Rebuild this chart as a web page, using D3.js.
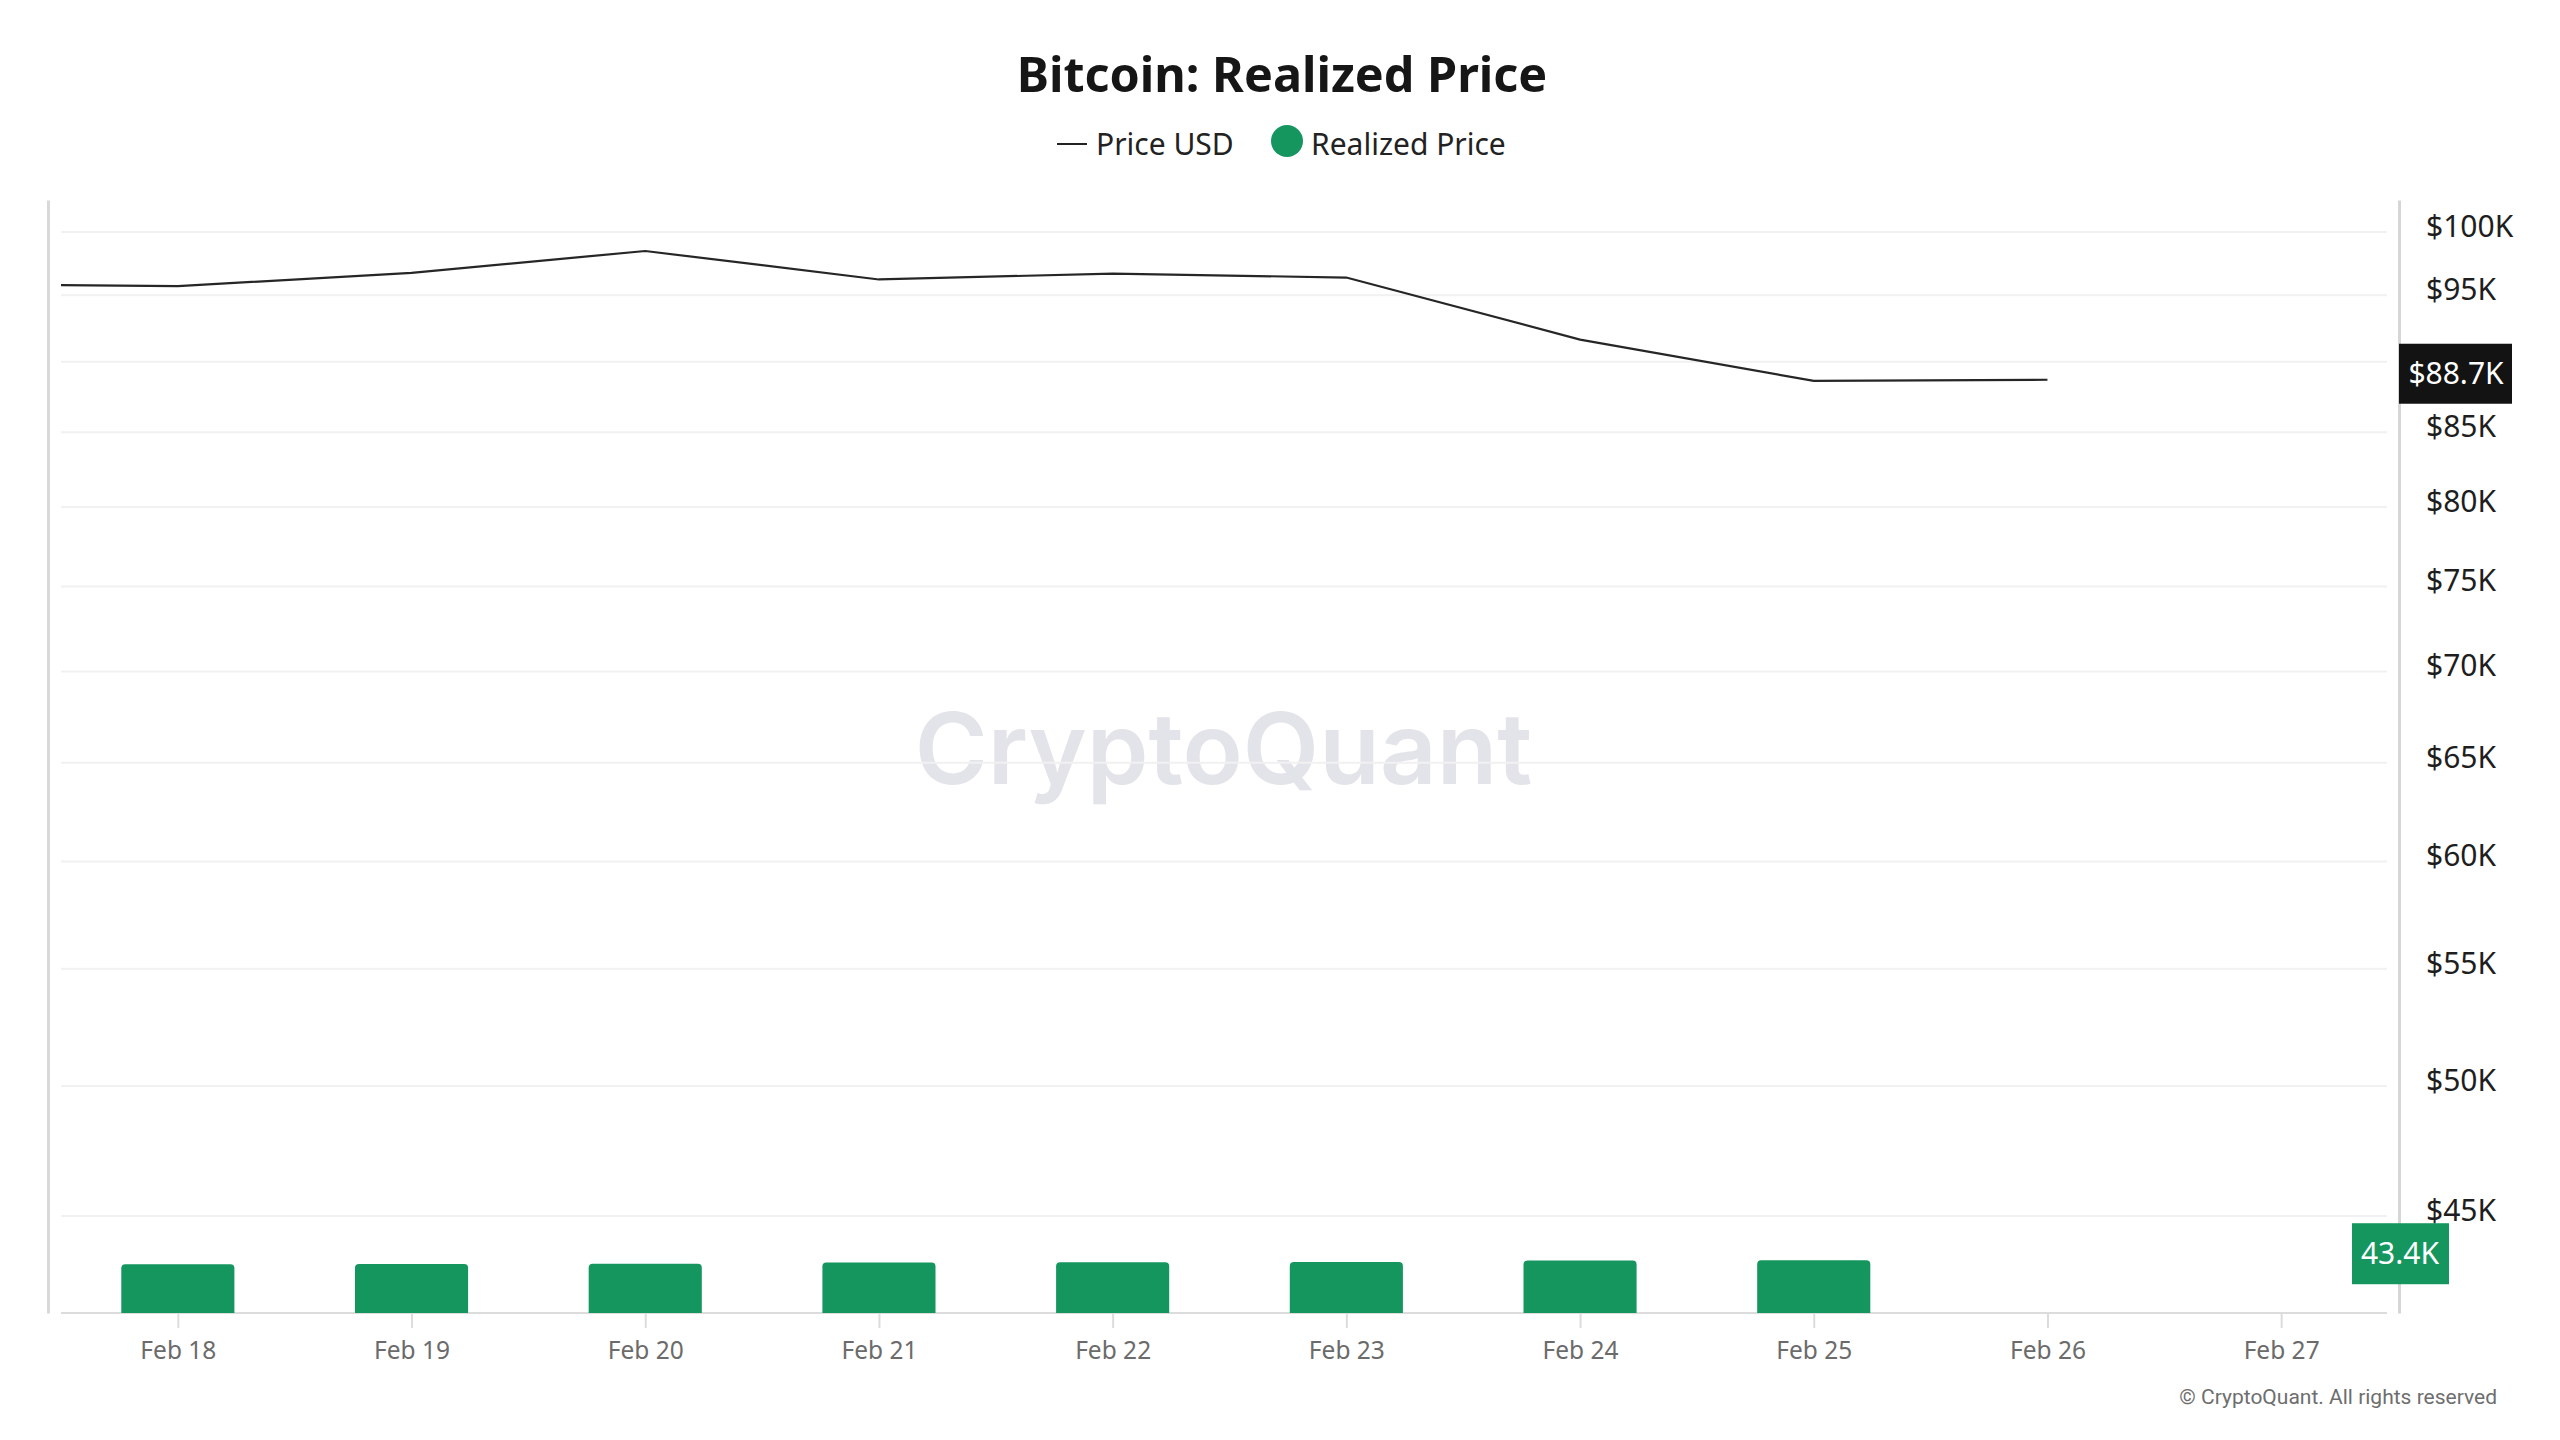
<!DOCTYPE html>
<html>
<head>
<meta charset="utf-8">
<script src="https://cdn.jsdelivr.net/npm/d3@7"></script>
<style>
  html, body { margin: 0; padding: 0; background: #fff; }
  svg { display: block; font-family: "Noto Sans", "Open Sans", sans-serif; }
</style>
</head>
<body>
<svg id="viz" width="2560" height="1440"></svg>
<script>
// price line (Feb 17 sits left of the visible range and gets clipped)
var priceDates = ["2025-02-17", "2025-02-18", "2025-02-19", "2025-02-20", "2025-02-21",
  "2025-02-22", "2025-02-23", "2025-02-24", "2025-02-25", "2025-02-26"];
var priceUsd = [95850, 95700, 96740, 98470, 96220, 96680, 96370, 91640, 88620, 88700];

// realized price bars
var realizedDates = ["2025-02-18", "2025-02-19", "2025-02-20", "2025-02-21",
  "2025-02-22", "2025-02-23", "2025-02-24", "2025-02-25"];
var realizedPrice = [43270, 43280, 43290, 43330, 43340, 43350, 43400, 43410];

// axis ticks
var xTickDates = ["2025-02-18", "2025-02-19", "2025-02-20", "2025-02-21", "2025-02-22",
  "2025-02-23", "2025-02-24", "2025-02-25", "2025-02-26", "2025-02-27"];
var gridTicks = [45000, 50000, 55000, 60000, 65000, 70000, 75000, 80000, 85000, 90000, 95000, 100000];
var yLabelTicks = [45000, 50000, 55000, 60000, 65000, 70000, 75000, 80000, 85000, 95000, 100000];

var parseDate = d3.timeParse("%Y-%m-%d");
var green = "#15965f";

var svg = d3.select("#viz");
var plot = { left: 61, right: 2398, top: 200, bottom: 1313 };

var halfDay = 12 * 3600 * 1000;
var x = d3.scaleTime()
  .domain([+parseDate("2025-02-18") - halfDay, +parseDate("2025-02-27") + halfDay])
  .range([plot.left, plot.right]);
var y = d3.scaleLog()
  .domain([41590, 102630])
  .range([plot.bottom, plot.top]);
var step = x(parseDate("2025-02-19")) - x(parseDate("2025-02-18"));
var barW = step * 0.484;

// title + legend
svg.append("text")
  .attr("x", 1282).attr("y", 92)
  .attr("text-anchor", "middle")
  .style("font-size", "48.5px").style("font-weight", 700).style("fill", "#161616")
  .text("Bitcoin: Realized Price");

var legend = svg.append("g");
legend.append("line")
  .attr("x1", 1057).attr("x2", 1087).attr("y1", 144).attr("y2", 144)
  .attr("stroke", "#222").attr("stroke-width", 2);
legend.append("text")
  .attr("x", 1096).attr("y", 155)
  .style("font-size", "30px").style("fill", "#222")
  .text("Price USD");
legend.append("circle")
  .attr("cx", 1287).attr("cy", 141).attr("r", 16)
  .attr("fill", green);
legend.append("text")
  .attr("x", 1311).attr("y", 155)
  .style("font-size", "30px").style("fill", "#222")
  .text("Realized Price");

// watermark
svg.append("text")
  .attr("x", (plot.left + plot.right) / 2 - 6).attr("y", 748)
  .attr("text-anchor", "middle").attr("dominant-baseline", "central")
  .style("font-family", "Inter, sans-serif")
  .style("font-size", "99px").style("font-weight", 600)
  .style("fill", "#e3e3ea")
  .text("CryptoQuant");

// gridlines
svg.append("g")
  .selectAll("line")
  .data(gridTicks)
  .enter()
  .append("line")
  .attr("x1", plot.left).attr("x2", 2387)
  .attr("y1", (d) => y(d)).attr("y2", (d) => y(d))
  .attr("stroke", "#f1f1f1").attr("stroke-width", 2);

// left border
svg.append("g")
  .attr("transform", "translate(48,0)")
  .call(d3.axisLeft(y).tickValues([]).tickSizeOuter(0))
  .call((g) => g.select(".domain").attr("stroke", "#d9d9d9").attr("stroke-width", 3));

// x axis
var xAxis = svg.append("g")
  .attr("transform", "translate(0," + plot.bottom + ")")
  .call(
    d3.axisBottom(x)
      .tickValues(xTickDates.map(parseDate))
      .tickFormat(d3.timeFormat("%b %d"))
      .tickSize(15).tickSizeOuter(0).tickPadding(14)
  );
xAxis.select(".domain").attr("stroke", "#dcdcdc").attr("stroke-width", 2)
  .attr("d", "M" + plot.left + ",0H2387");
xAxis.selectAll(".tick line").attr("stroke", "#dcdcdc").attr("stroke-width", 2);
xAxis.selectAll(".tick text")
  .style("font-family", "'Noto Sans', sans-serif")
  .style("font-size", "24.5px").style("fill", "#6b6b6b");

// bars
svg.append("g")
  .selectAll("path")
  .data(realizedPrice)
  .enter()
  .append("path")
  .attr("fill", green)
  .attr("d", function (d, i) {
    var cx = x(parseDate(realizedDates[i]));
    var x0 = cx - barW / 2, x1 = cx + barW / 2;
    var top = y(d), r = 4;
    return "M" + x0 + "," + plot.bottom +
      "V" + (top + r) + "Q" + x0 + "," + top + " " + (x0 + r) + "," + top +
      "H" + (x1 - r) + "Q" + x1 + "," + top + " " + x1 + "," + (top + r) +
      "V" + plot.bottom + "Z";
  });

// price line, clipped to the plot
svg.append("clipPath").attr("id", "clip")
  .append("rect")
  .attr("x", plot.left).attr("y", plot.top)
  .attr("width", plot.right - plot.left).attr("height", plot.bottom - plot.top);

svg.append("path")
  .datum(priceUsd)
  .attr("clip-path", "url(#clip)")
  .attr("fill", "none")
  .attr("stroke", "#262626")
  .attr("stroke-width", 2.2)
  .attr("d", d3.line()
    .x((d, i) => x(parseDate(priceDates[i])))
    .y((d) => y(d)));

// right axis
var yAxis = svg.append("g")
  .attr("transform", "translate(2399,0)")
  .call(
    d3.axisRight(y)
      .tickValues(yLabelTicks)
      .tickFormat((d) => "$" + d / 1000 + "K")
      .tickSize(0).tickSizeOuter(0).tickPadding(27)
  );
yAxis.select(".domain").attr("stroke", "#d6d6d6").attr("stroke-width", 3);
yAxis.selectAll(".tick text")
  .attr("dy", "0.15em")
  .style("font-family", "'Noto Sans', sans-serif")
  .style("font-size", "30px").style("fill", "#1e1e1e");

// last value tags
var lastPrice = priceUsd[priceUsd.length - 1];
var py = y(lastPrice) - 6;
svg.append("rect")
  .attr("x", 2399).attr("y", py - 30).attr("width", 113).attr("height", 60)
  .attr("fill", "#131313");
svg.append("text")
  .attr("x", 2456).attr("y", py).attr("dy", "0.35em")
  .attr("text-anchor", "middle")
  .style("font-size", "30px").style("fill", "#fff")
  .text("$" + d3.format(".1f")(lastPrice / 1000) + "K");

var lastReal = realizedPrice[realizedPrice.length - 1];
var ry = y(lastReal) - 7;
svg.append("rect")
  .attr("x", 2352).attr("y", ry - 30).attr("width", 97).attr("height", 61)
  .attr("fill", green);
svg.append("text")
  .attr("x", 2400).attr("y", ry).attr("dy", "0.35em")
  .attr("text-anchor", "middle")
  .style("font-size", "30px").style("fill", "#fff")
  .text(d3.format(".1f")(lastReal / 1000) + "K");

// footer
svg.append("text")
  .attr("x", 2497).attr("y", 1404)
  .attr("text-anchor", "end")
  .style("font-family", "Roboto, sans-serif")
  .style("font-size", "21px").style("fill", "#6e6e6e")
  .text("© CryptoQuant. All rights reserved");
</script>
</body>
</html>
